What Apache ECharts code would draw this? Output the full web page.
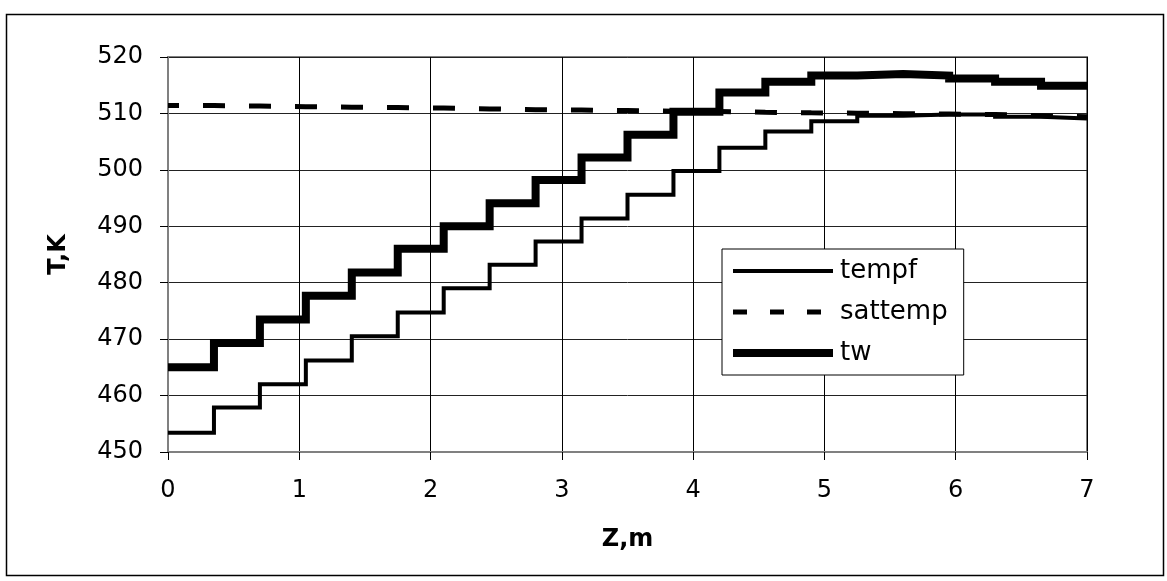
<!DOCTYPE html>
<html>
<head>
<meta charset="utf-8">
<script src="https://cdn.jsdelivr.net/npm/echarts@6/dist/echarts.min.js"></script>
<style>
  html, body { margin: 0; padding: 0; background: #fff; }
  #chart { width: 1167px; height: 581px; }
</style>
</head>
<body>
<div id="chart"></div>
<script>
// Cell edges along the channel, m (20 cells of 0.35 m)
const zEdges = [0, 0.35, 0.7, 1.05, 1.4, 1.75, 2.1, 2.45, 2.8, 3.15, 3.5,
                3.85, 4.2, 4.55, 4.9, 5.25, 5.6, 5.95, 6.3, 6.65, 7];

// Cell-averaged temperatures, K
const tempf = [453.4, 457.9, 462.0, 466.2, 470.5, 474.7, 479.0, 483.2, 487.3, 491.4,
               495.6, 499.8, 503.9, 506.8, 508.6, 509.6, 509.8, 509.8, 509.4, 509.1];
const sattemp = [511.4, 511.3, 511.2, 511.1, 511.05, 510.95, 510.8, 510.65, 510.6, 510.5,
                 510.4, 510.35, 510.2, 510.1, 510.05, 509.95, 509.9, 509.8, 509.6, 509.4];
const tw = [465.0, 469.3, 473.5, 477.7, 481.8, 486.0, 490.0, 494.1, 498.2, 502.2,
            506.2, 510.3, 513.7, 515.6, 516.7, 517.0, 516.7, 516.2, 515.6, 514.9];

const xTicks = [0, 1, 2, 3, 4, 5, 6, 7];
const yTicks = [450, 460, 470, 480, 490, 500, 510, 520];

// Piecewise-constant profile: one point per cell start, plus the outlet edge
function stepPoints(values) {
  const pts = values.map((v, i) => [zEdges[i], v]);
  pts.push([zEdges[zEdges.length - 1], values[values.length - 1]]);
  return pts;
}

const FONT = 'DejaVu Sans';
const chart = echarts.init(document.getElementById('chart'), null, { renderer: 'canvas' });

chart.setOption({
  animation: false,
  backgroundColor: '#ffffff',
  color: ['#000', '#000', '#000'],
  textStyle: { fontFamily: FONT, color: '#000' },
  graphic: [{
    type: 'rect',
    left: 4, top: 12,
    shape: { width: 1157, height: 561 },
    style: { fill: 'none', stroke: '#000', lineWidth: 1.5 },
    silent: true
  }],
  grid: {
    left: 168, right: 80, top: 57, bottom: 129,
    show: true, borderColor: '#808080', borderWidth: 2, backgroundColor: 'transparent'
  },
  legend: {
    orient: 'vertical',
    left: 722, top: 249,
    padding: [9, 16, 9, 7],
    itemWidth: 100, itemHeight: 14, itemGap: 15,
    borderColor: '#000', borderWidth: 1, backgroundColor: '#fff',
    itemStyle: { opacity: 0 },
    textStyle: { fontFamily: FONT, fontSize: 26, color: '#000', padding: [0, 0, 0, 2] },
    data: [
      { name: 'tempf', lineStyle: { width: 4, type: 'solid', color: '#000' } },
      { name: 'sattemp', lineStyle: { width: 5, type: [14, 23], dashOffset: 0, color: '#000' } },
      { name: 'tw', lineStyle: { width: 8, type: 'solid', color: '#000' } }
    ]
  },
  xAxis: {
    type: 'value', min: xTicks[0], max: xTicks[xTicks.length - 1], interval: 1,
    name: 'Z,m', nameLocation: 'middle', nameGap: 76,
    nameTextStyle: { fontFamily: FONT, fontSize: 24, fontWeight: 'bold', color: '#000' },
    axisLine: { show: true, onZero: false, lineStyle: { color: '#808080', width: 2 } },
    axisTick: { show: true, inside: false, length: 8, lineStyle: { color: '#000', width: 1 } },
    axisLabel: { margin: 27, fontFamily: FONT, fontSize: 24, color: '#000' },
    splitLine: { show: true, lineStyle: { color: '#000', width: 1 } }
  },
  yAxis: {
    type: 'value', min: yTicks[0], max: yTicks[yTicks.length - 1], interval: 10,
    name: 'T,K', nameLocation: 'middle', nameGap: 97, nameRotate: 90,
    nameTextStyle: { fontFamily: FONT, fontSize: 24, fontWeight: 'bold', color: '#000' },
    axisLine: { show: true, lineStyle: { color: '#808080', width: 2 } },
    axisTick: { show: true, inside: false, length: 8, lineStyle: { color: '#000', width: 1 } },
    axisLabel: { margin: 25, fontFamily: FONT, fontSize: 24, color: '#000' },
    splitLine: { show: true, lineStyle: { color: '#222', width: 1 } }
  },
  series: [
    {
      name: 'tempf', type: 'line', step: 'end', z: 3,
      data: stepPoints(tempf), showSymbol: false, symbol: 'none',
      itemStyle: { color: '#000' },
      lineStyle: { color: '#000', width: 4, type: 'solid', cap: 'butt', join: 'miter' }
    },
    {
      name: 'sattemp', type: 'line', step: 'end', z: 2,
      data: stepPoints(sattemp), showSymbol: false, symbol: 'none',
      itemStyle: { color: '#000' },
      lineStyle: { color: '#000', width: 5, type: [22, 24], dashOffset: 11, cap: 'butt' }
    },
    {
      name: 'tw', type: 'line', step: 'end', z: 4,
      data: stepPoints(tw), showSymbol: false, symbol: 'none',
      itemStyle: { color: '#000' },
      lineStyle: { color: '#000', width: 8, type: 'solid', cap: 'butt', join: 'miter' }
    }
  ]
});
</script>
</body>
</html>
